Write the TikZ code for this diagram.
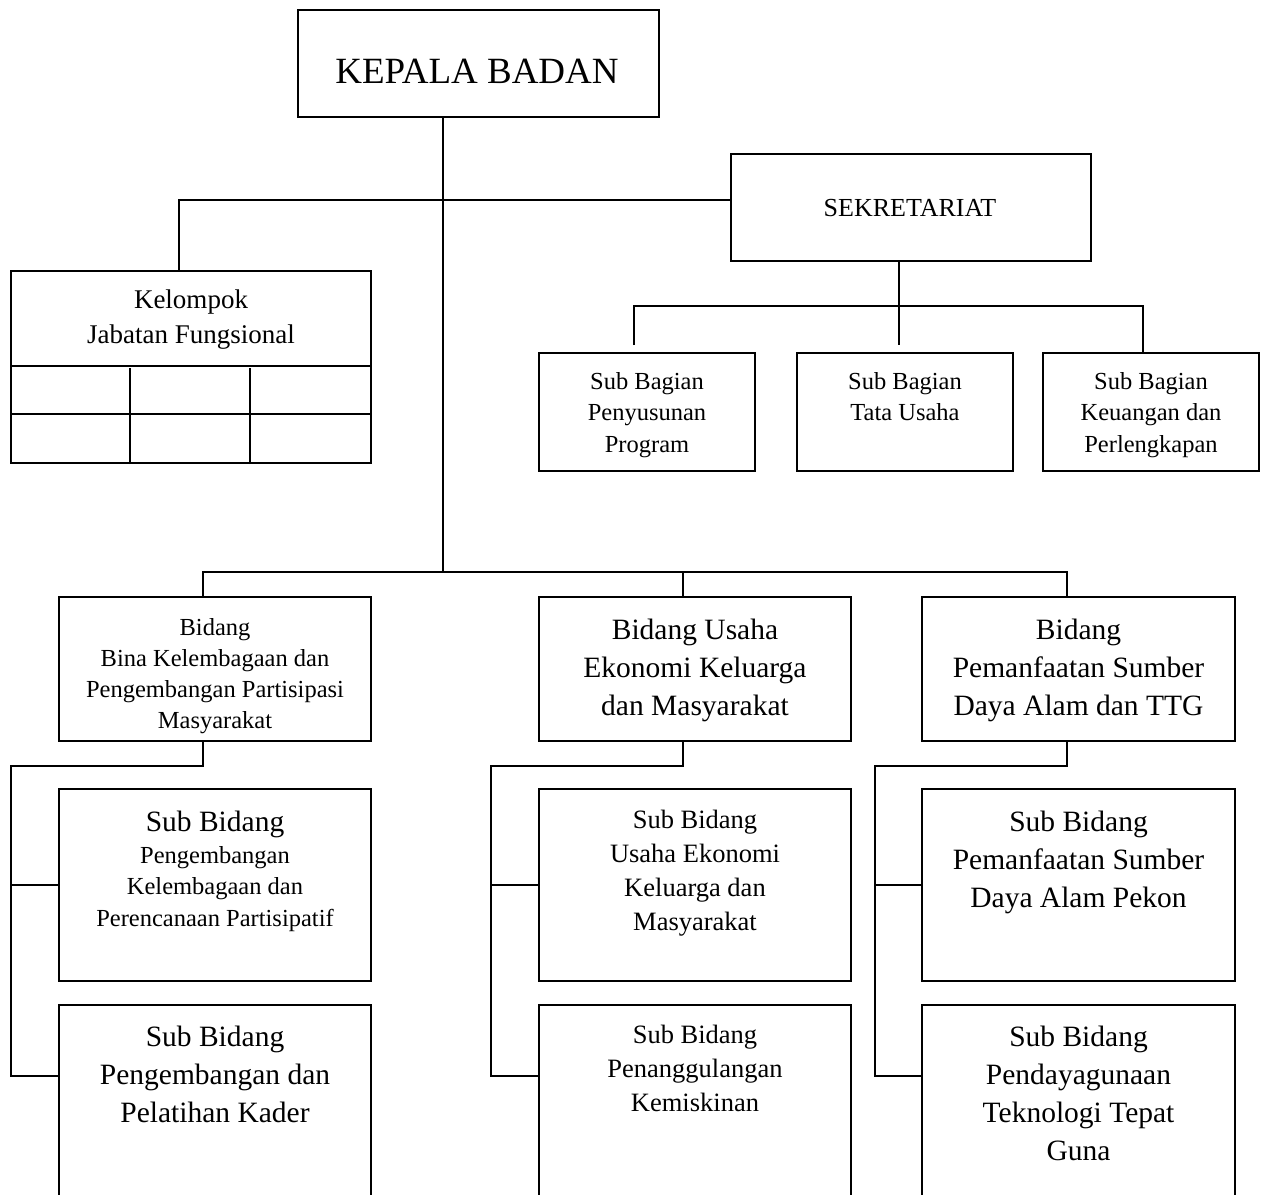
\documentclass[tikz,border=0pt]{standalone}
\usepackage{fontspec}
\setmainfont{Liberation Serif}
\tikzset{
  box/.style={draw, line width=2pt, inner sep=0pt},
  conn/.style={line width=2pt},
  txt/.style={anchor=base, inner sep=0pt}
}
\newcommand\txtlines[6]{%
  \foreach \t [count=\i] in {#6} {%
    \node[txt, font=\fontsize{#5}{#5}\selectfont] (#1-\i) at (#2, {#3+(\i-1)*#4}) {\t};
  }%
}
\begin{document}
\begin{tikzpicture}[x=1pt, y=-1pt]
\clip (0,0) rectangle (1266,1194);
\fill[white] (0,0) rectangle (1266,1194);

% boxes
\node[box, minimum width=361pt, minimum height=107pt] (kb) at (478.5,63.5) {};
\node[box, minimum width=360pt, minimum height=107pt] (sek) at (911,207.5) {};
\node[box, minimum width=360pt, minimum height=192pt] (kjf) at (191,367) {};
\node[box, minimum width=216pt, minimum height=118pt] (sb1) at (647,412) {};
\node[box, minimum width=216pt, minimum height=118pt] (sb2) at (905,412) {};
\node[box, minimum width=216pt, minimum height=118pt] (sb3) at (1151,412) {};
\node[box, minimum width=312pt, minimum height=144pt] (bd1) at (215,669) {};
\node[box, minimum width=312pt, minimum height=144pt] (bd2) at (695,669) {};
\node[box, minimum width=313pt, minimum height=144pt] (bd3) at (1078.5,669) {};
\node[box, minimum width=312pt, minimum height=192pt] (s11) at (215,885) {};
\node[box, minimum width=312pt, minimum height=220pt] (s12) at (215,1115) {};
\node[box, minimum width=312pt, minimum height=192pt] (s21) at (695,885) {};
\node[box, minimum width=312pt, minimum height=220pt] (s22) at (695,1115) {};
\node[box, minimum width=313pt, minimum height=192pt] (s31) at (1078.5,885) {};
\node[box, minimum width=313pt, minimum height=220pt] (s32) at (1078.5,1115) {};

% grid inside Kelompok Jabatan Fungsional
\draw[conn] ([yshift=-96pt]kjf.north west) -- ([yshift=-96pt]kjf.north east);
\draw[conn] ([yshift=-144pt]kjf.north west) -- ([yshift=-144pt]kjf.north east);
\draw[conn] ([xshift=120pt]kjf.south west) -- ++(0,96pt);
\draw[conn] ([xshift=240pt]kjf.south west) -- ++(0,96pt);

% connectors
\coordinate (hub) at (443,573);
\draw[conn] ([xshift=-35.5pt]kb.south) -- (hub);
\draw[conn] ([xshift=-12pt]kjf.north) |- ([yshift=7.5pt]sek.west);
\coordinate (sbmid) at (899,345);
\coordinate (sbleft) at (634,345);
\coordinate (sbbar) at (634,306);
\draw[conn] ([xshift=-12pt]sek.south) -- (sbmid);
\draw[conn] (sbleft) -- (sbbar) -| ([xshift=-8pt]sb3.north);
\draw[conn] ([xshift=-12pt]bd1.north) -- ++(0,24pt) -| ([xshift=-11.5pt]bd3.north);
\draw[conn] ([xshift=-12pt]bd2.north) -- ++(0,24pt);
% column branches
\draw[conn] ([xshift=-12pt]bd1.south) -- ++(0,-24pt) -- ++(-192pt,0) |- ([yshift=-72pt]s12.north west);
\draw[conn] (s11.west) -- ++(-48pt,0);
\draw[conn] ([xshift=-12pt]bd2.south) -- ++(0,-24pt) -- ++(-192pt,0) |- ([yshift=-72pt]s22.north west);
\draw[conn] (s21.west) -- ++(-48pt,0);
\draw[conn] ([xshift=-11.5pt]bd3.south) -- ++(0,-24pt) -- ++(-192pt,0) |- ([yshift=-72pt]s32.north west);
\draw[conn] (s31.west) -- ++(-47pt,0);

% texts
\node[txt, font=\fontsize{37}{37}\selectfont] (kbt) at (477,83) {KEPALA BADAN};
\node[txt, font=\fontsize{26}{26}\selectfont] (sekt) at (910,216) {SEKRETARIAT};
\txtlines{kjft}{191}{308}{35}{27}{Kelompok,Jabatan Fungsional}
\txtlines{sb1t}{647}{389}{31.5}{24.5}{Sub Bagian,Penyusunan,Program}
\txtlines{sb2t}{905}{389}{31.5}{24.5}{Sub Bagian,Tata Usaha}
\txtlines{sb3t}{1151}{389}{31.5}{24.5}{Sub Bagian,Keuangan dan,Perlengkapan}
\txtlines{bd1t}{215}{635}{31}{24.5}{Bidang,Bina Kelembagaan dan,Pengembangan Partisipasi,Masyarakat}
\txtlines{bd2t}{695}{639}{38}{29.5}{Bidang Usaha,Ekonomi Keluarga,dan Masyarakat}
\txtlines{bd3t}{1078.5}{639}{38}{29.5}{Bidang,Pemanfaatan Sumber,Daya Alam dan TTG}
\txtlines{s11a}{215}{831}{0}{29.5}{Sub Bidang}
\txtlines{s11t}{215}{863}{31.5}{24.5}{Pengembangan,Kelembagaan dan,Perencanaan Partisipatif}
\txtlines{s12t}{215}{1046}{38}{29.5}{Sub Bidang,Pengembangan dan,Pelatihan Kader}
\txtlines{s21t}{695}{828}{34}{26.5}{Sub Bidang,Usaha Ekonomi,Keluarga dan,Masyarakat}
\txtlines{s22t}{695}{1043}{34}{26.5}{Sub Bidang,Penanggulangan,Kemiskinan}
\txtlines{s31t}{1078.5}{831}{38}{29.5}{Sub Bidang,Pemanfaatan Sumber,Daya Alam Pekon}
\txtlines{s32t}{1078.5}{1046}{38}{29.5}{Sub Bidang,Pendayagunaan,Teknologi Tepat,Guna}
\end{tikzpicture}
\end{document}
